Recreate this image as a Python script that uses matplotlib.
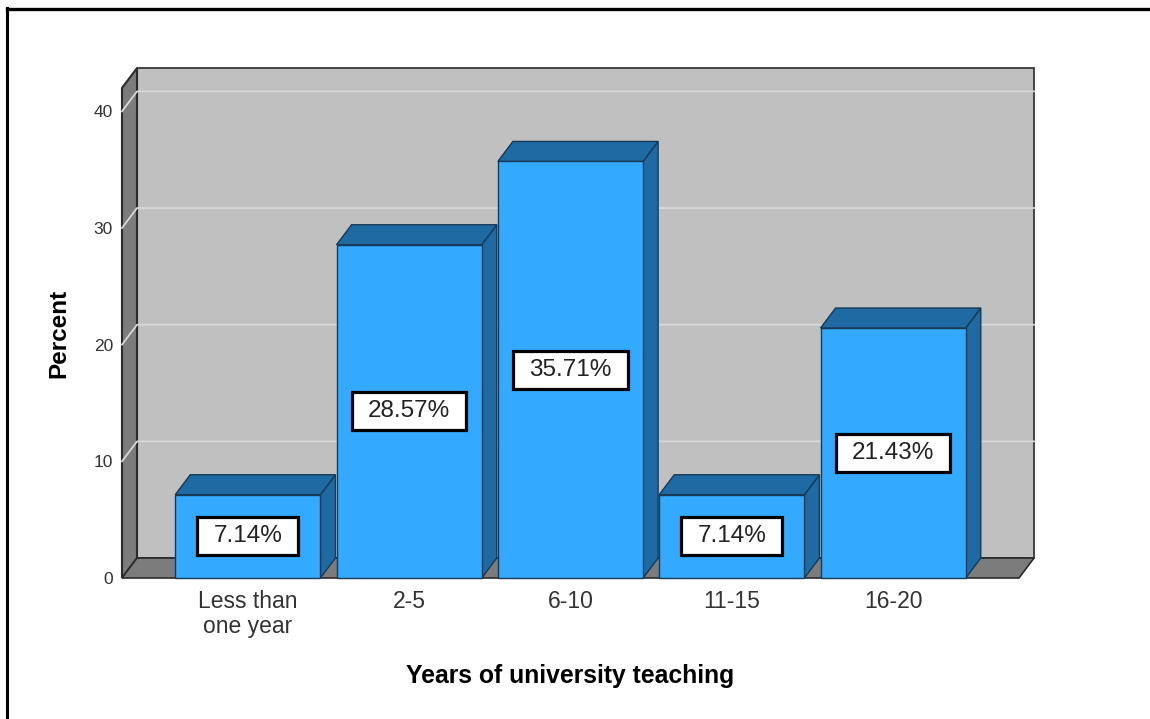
import matplotlib
matplotlib.use("Agg")
import matplotlib.pyplot as plt
from matplotlib.patches import Polygon
from matplotlib.path import Path
from matplotlib.lines import Line2D

plt.rcParams['font.family'] = ['Liberation Sans', 'DejaVu Sans']

# ---- data ----
categories = ['Less than\none year', '2-5', '6-10', '11-15', '16-20']
percents = [7.14, 28.57, 35.71, 7.14, 21.43]
y_ticks = [0, 10, 20, 30, 40]

# ---- fake 3d geometry (data units) ----
X0, X1 = -0.78, 4.78
YMAX = 42
DX, DY = 0.093, 1.71
HALF = 0.45

FRONT = '#33aaff'
SHADE = '#1f6aa3'
BAR_EDGE = '#163a58'


def label_box(x0, y0, width, height, mutation_size):
    # wider padding left/right than top/bottom
    px = 0.66 * mutation_size
    py = 0.33 * mutation_size
    x0, y0 = x0 - px, y0 - py
    x1, y1 = x0 + width + 2 * px, y0 + height + 2 * py
    return Path([(x0, y0), (x1, y0), (x1, y1), (x0, y1), (x0, y0)], closed=True)


fig = plt.figure(figsize=(11.5, 7.19), dpi=100)
ax = fig.add_axes([122 / 1150, 141 / 719, 897 / 1150, 490 / 719])
ax.set_xlim(X0, X1)
ax.set_ylim(0, YMAX)

# walls and floor
back = [(X0 + DX, DY), (X1 + DX, DY), (X1 + DX, YMAX + DY), (X0 + DX, YMAX + DY)]
left = [(X0, 0), (X0 + DX, DY), (X0 + DX, YMAX + DY), (X0, YMAX)]
floor = [(X0, 0), (X1, 0), (X1 + DX, DY), (X0 + DX, DY)]
ax.add_patch(Polygon(back, closed=True, fc='#c0c0c0', ec='#2b2b2b', lw=1.2, clip_on=False, zorder=1))
ax.add_patch(Polygon(left, closed=True, fc='#7c7c7c', ec='#2b2b2b', lw=1.5, clip_on=False, zorder=1))
ax.add_patch(Polygon(floor, closed=True, fc='#7c7c7c', ec='#2b2b2b', lw=1.2, clip_on=False, zorder=1))

# gridlines across the side wall and back wall
for v in y_ticks[1:]:
    ax.plot([X0, X0 + DX, X1 + DX], [v, v + DY, v + DY], color='#d8d8d8', lw=1.3,
            clip_on=False, zorder=2)

# bars
for i, (cat, h) in enumerate(zip(categories, percents)):
    a, b = i - HALF, i + HALF
    front = [(a, 0), (b, 0), (b, h), (a, h)]
    top = [(a, h), (b, h), (b + DX, h + DY), (a + DX, h + DY)]
    side = [(b, 0), (b + DX, DY), (b + DX, h + DY), (b, h)]
    for pts, col in [(side, SHADE), (top, SHADE), (front, FRONT)]:
        ax.add_patch(Polygon(pts, closed=True, fc=col, ec=BAR_EDGE, lw=1.0,
                             clip_on=False, zorder=3))
    ax.text(i, h / 2, f'{h:.2f}%', ha='center', va='center', fontsize=17.5,
            color='#222222', zorder=5,
            bbox=dict(boxstyle=label_box, fc='white', ec='black', lw=2.3))

# axes
for s in ax.spines.values():
    s.set_visible(False)
ax.set_yticks(y_ticks)
ax.set_yticklabels([str(t) for t in y_ticks])
ax.set_xticks(range(len(categories)))
ax.set_xticklabels(categories, linespacing=1.1)
ax.tick_params(axis='y', length=0, pad=6.5, labelsize=12.5, labelcolor='#333333')
ax.tick_params(axis='x', length=0, pad=9, labelsize=16.5, labelcolor='#333333')

ax.set_xlabel('Years of university teaching', fontsize=17.8, fontweight='bold')
ax.xaxis.set_label_coords(0.5, -0.176)
ax.set_ylabel('Percent', fontsize=17.5, fontweight='bold')
ax.yaxis.set_label_coords(-0.057, 0.5)

# outer frame (top and left edges)
fig.add_artist(Line2D([7 / 1150, 7 / 1150], [0, 1 - 8 / 719], transform=fig.transFigure,
                      color='black', lw=2.2))
fig.add_artist(Line2D([7 / 1150, 1], [1 - 9 / 719, 1 - 9 / 719], transform=fig.transFigure,
                      color='black', lw=2.4))

fig.savefig('out.png', dpi=100)
